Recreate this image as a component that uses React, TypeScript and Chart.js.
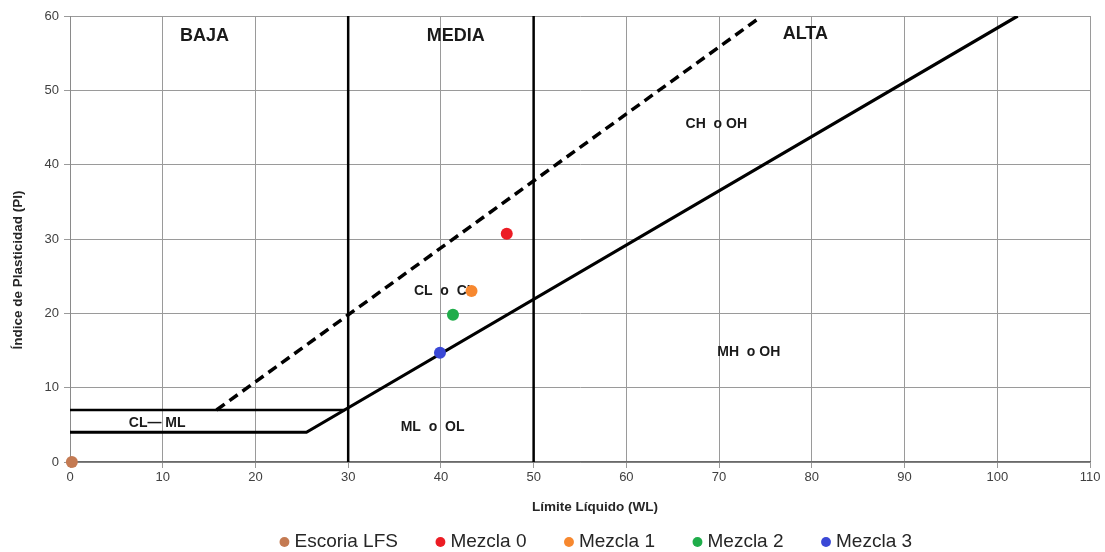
import React, { useEffect, useRef } from "react";
import { Chart, registerables } from "chart.js";

Chart.register(...registerables);

// ---- Data ----
const seriesNames = ["Escoria LFS", "Mezcla 0", "Mezcla 1", "Mezcla 2", "Mezcla 3"];
const seriesLL = [0.2, 47.1, 43.3, 41.3, 39.9];
const seriesPI = [0, 30.7, 23.0, 19.8, 14.7];
const seriesColors = ["#c47a52", "#ec1c24", "#f7882f", "#1fad4a", "#3a48d6"];

// A-line with the PI = 4 step
const aLineLL = [0, 25.5, 102.2];
const aLinePI = [4, 4, 60];
// PI = 7 line (CL-ML zone)
const clmlLL = [0, 29.6];
const clmlPI = [7, 7];
// U-line (dashed)
const uLineLL = [15.8, 74.4];
const uLinePI = [7, 59.8];
// Vertical boundaries (low / medium / high)
const boundaryLL = [30, 50];
const boundaryPI = [0, 60];

// Zone labels
const zoneTexts = ["BAJA", "MEDIA", "ALTA", "CH  o OH", "CL  o  CL", "MH  o OH", "ML  o  OL", "CL\u2014 ML"];
const zoneLL = [14.5, 41.6, 79.3, 69.7, 40.4, 73.2, 39.1, 9.4];
const zonePI = [57.3, 57.3, 57.6, 45.4, 23.0, 14.8, 4.7, 5.2];
const zoneBig = [true, true, true, false, false, false, false, false];

const xMin = 0, xMax = 110, xStep = 10;
const yMin = 0, yMax = 60, yStep = 10;
const xTitle = "Límite Líquido (WL)";
const yTitle = "Índice de Plasticidad (PI)";

const FONT = "'Liberation Sans', Arial, sans-serif";
const LEGEND_PAD = 42;
const LEGEND_H = 61.5;
const LEGEND_SHIFT = 53;
const X_TITLE_SHIFT = 15;
const Y_TITLE_SHIFT = 31;

const zonePlugin = {
  id: "zoneLabels",
  beforeDatasetsDraw(chart: any) {
    const { ctx, scales } = chart;
    ctx.save();
    ctx.fillStyle = "#1a1a1a";
    ctx.textAlign = "center";
    ctx.textBaseline = "middle";
    zoneTexts.forEach((t, i) => {
      ctx.font = `bold ${zoneBig[i] ? 18 : 14}px ${FONT}`;
      ctx.fillText(t, scales.x.getPixelForValue(zoneLL[i]), scales.y.getPixelForValue(zonePI[i]));
    });
    ctx.restore();
  },
};

function shiftTitle(scale: any, dx: number, dy: number) {
  if (!scale || scale.__titleShifted) return;
  const orig = scale.drawTitle;
  scale.drawTitle = function (...args: any[]) {
    const ctx = this.ctx;
    ctx.save();
    ctx.translate(dx, dy);
    orig.apply(this, args);
    ctx.restore();
  };
  scale.__titleShifted = true;
}

const layoutPlugin = {
  id: "layoutTweaks",
  afterInit(chart: any) {
    const lg = chart.legend;
    if (!lg) return;
    const orig = lg.fit;
    lg.fit = function () {
      orig.call(this);
      this.height = LEGEND_H;
    };
  },
  afterLayout(chart: any) {
    const lg = chart.legend;
    if (lg) {
      lg.left += LEGEND_SHIFT;
      lg.right += LEGEND_SHIFT;
    }
    shiftTitle(chart.scales.x, X_TITLE_SHIFT, 0);
    shiftTitle(chart.scales.y, 0, Y_TITLE_SHIFT);
  },
};

function toPts(xs: number[], ys: number[]) {
  return xs.map((x, i) => ({ x, y: ys[i] }));
}

export default function App() {
  const ref = useRef<HTMLCanvasElement | null>(null);
  useEffect(() => {
    if (!ref.current) return;
    const pointSets = seriesNames.map((name, i) => ({
      label: name,
      data: [{ x: seriesLL[i], y: seriesPI[i] }],
      backgroundColor: seriesColors[i],
      borderColor: seriesColors[i],
      pointRadius: 6,
      pointBorderWidth: 0,
      pointStyle: "circle",
      showLine: false,
      clip: false as any,
    }));
    const lineStyle = {
      borderColor: "#000",
      backgroundColor: "#000",
      pointRadius: 0,
      showLine: true,
      fill: false,
      tension: 0,
    };
    const lineSets = [
      { label: "", data: toPts(aLineLL, aLinePI), borderWidth: 3.2, ...lineStyle },
      { label: "", data: toPts(clmlLL, clmlPI), borderWidth: 2.5, ...lineStyle },
      { label: "", data: toPts(uLineLL, uLinePI), borderWidth: 3.5, borderDash: [10, 6], ...lineStyle },
      ...boundaryLL.map((v) => ({
        label: "",
        data: toPts([v, v], boundaryPI),
        borderWidth: 2.5,
        ...lineStyle,
      })),
    ];
    const chart = new Chart(ref.current, {
      type: "scatter",
      data: { datasets: [...pointSets, ...lineSets] as any },
      plugins: [zonePlugin, layoutPlugin],
      options: {
        animation: false,
        responsive: true,
        maintainAspectRatio: false,
        layout: { padding: { top: 16, right: 15, left: 0, bottom: 0 } },
        plugins: {
          tooltip: { enabled: false },
          legend: {
            position: "bottom",
            labels: {
              filter: (item: any) => item.datasetIndex < seriesNames.length,
              usePointStyle: true,
              pointStyle: "circle",
              boxWidth: 1,
              boxHeight: 7,
              padding: LEGEND_PAD,
              color: "#262626",
              font: { family: FONT, size: 19 },
            },
          },
        },
        scales: {
          x: {
            type: "linear",
            min: xMin,
            max: xMax,
            afterFit: (s: any) => {
              s.height = 552 - LEGEND_H - 462;
            },
            ticks: {
              stepSize: xStep,
              color: "#404040",
              font: { family: FONT, size: 13 },
              padding: 2,
              maxRotation: 0,
            },
            grid: { color: "#9a9a9a", lineWidth: 1, tickLength: 6, tickColor: "#9a9a9a" },
            border: { color: "#6a6a6a", width: 1.5 },
            title: {
              display: true,
              text: xTitle,
              color: "#262626",
              font: { family: FONT, size: 13.5, weight: "bold" },
              padding: { top: 0, bottom: -25 },
            },
          },
          y: {
            type: "linear",
            min: yMin,
            max: yMax,
            afterFit: (s: any) => {
              s.width = 70;
            },
            ticks: {
              stepSize: yStep,
              color: "#404040",
              font: { family: FONT, size: 13 },
              padding: 5,
            },
            grid: { color: "#9a9a9a", lineWidth: 1, tickLength: 6, tickColor: "#9a9a9a" },
            border: { color: "#8a8a8a", width: 1 },
            title: {
              display: true,
              text: yTitle,
              color: "#262626",
              font: { family: FONT, size: 13.5, weight: "bold" },
              padding: { top: 10, bottom: 0 },
            },
          },
        },
      } as any,
    });
    return () => chart.destroy();
  }, []);
  return (
    <div style={{ position: "absolute", left: 0, top: 0, width: 1105, height: 552, background: "#fff" }}>
      <canvas ref={ref} />
    </div>
  );
}
